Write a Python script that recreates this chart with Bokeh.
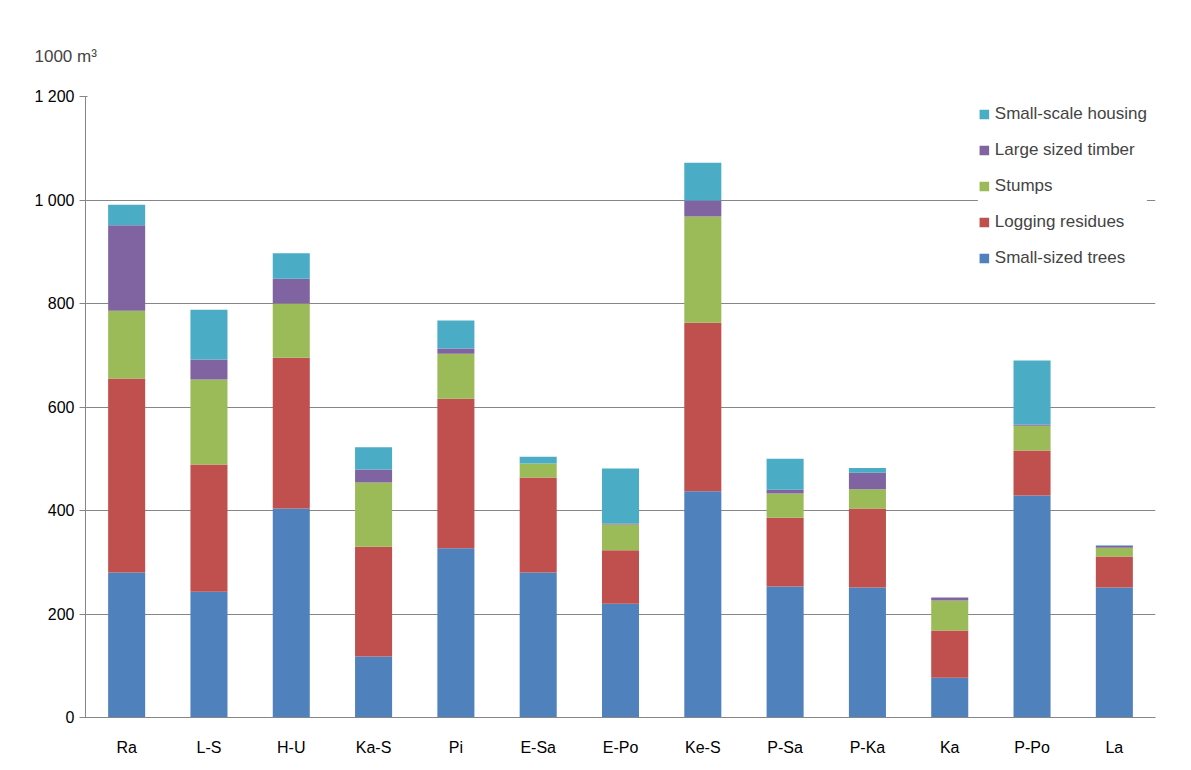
from bokeh.plotting import figure
from bokeh.models import Legend, LegendItem, FixedTicker, Title
from bokeh.embed import file_html
from bokeh.resources import INLINE

regions = ["Ra", "L-S", "H-U", "Ka-S", "Pi", "E-Sa", "E-Po", "Ke-S", "P-Sa", "P-Ka", "Ka", "P-Po", "La"]
small_trees = [280, 243, 404, 118, 327, 280, 220, 437, 253, 251, 77, 429, 251]
logging_res = [375, 246, 291, 212, 289, 184, 103, 326, 133, 153, 91, 87, 60]
stumps = [131, 164, 105, 124, 87, 27, 50, 205, 47, 37, 58, 48, 17]
large_timber = [165, 39, 48, 25, 10, 0, 2, 31, 7, 32, 6, 2, 4]
housing = [40, 96, 49, 43, 54, 13, 106, 73, 60, 9, 0, 124, 1]

names = ["small_trees", "logging_res", "stumps", "large_timber", "housing"]
labels = ["Small-sized trees", "Logging residues", "Stumps", "Large sized timber", "Small-scale housing"]
colors = ["#4F81BD", "#C0504D", "#9BBB59", "#8064A2", "#4BACC6"]

data = dict(regions=regions, small_trees=small_trees, logging_res=logging_res,
            stumps=stumps, large_timber=large_timber, housing=housing)

p = figure(x_range=regions, y_range=(0, 1200), frame_width=1070, frame_height=621,
           output_backend="svg", toolbar_location=None,
           outline_line_color=None, min_border_left=85, min_border_right=20,
           min_border_top=96, min_border_bottom=40)

r = p.vbar_stack(names, x="regions", width=0.45, color=colors, source=data, line_color=None)

p.add_layout(Title(text="1000 m³", text_font="Liberation Sans", text_font_size="17px",
                   text_font_style="normal", offset=-51, standoff=62), "above")

p.yaxis.ticker = FixedTicker(ticks=[0, 200, 400, 600, 800, 1000, 1200])
p.yaxis.major_label_overrides = {0: "0", 200: "200", 400: "400", 600: "600", 800: "800",
                                 1000: "1 000", 1200: "1 200"}
for ax in (p.xaxis, p.yaxis):
    ax.major_label_text_font = "Liberation Sans"
    ax.major_label_text_font_size = "16px"
    ax.major_label_text_color = "#000000"
    ax.axis_line_color = "#868686"
    ax.major_tick_line_color = "#868686"
    ax.minor_tick_line_color = None
p.xaxis.major_tick_line_color = None
p.xaxis.major_label_standoff = 15
p.xgrid.grid_line_color = None
p.ygrid.grid_line_color = "#868686"

items = [LegendItem(label=labels[i], renderers=[r[i]]) for i in range(4, -1, -1)]
legend = Legend(items=items, location="top_right", label_text_font="Liberation Sans",
                label_text_font_size="17px", border_line_color=None, spacing=16,
                glyph_width=12, glyph_height=12, background_fill_alpha=1,
                margin=8, padding=12)
p.add_layout(legend, "center")

open("out.html", "w").write(file_html(p, INLINE))
